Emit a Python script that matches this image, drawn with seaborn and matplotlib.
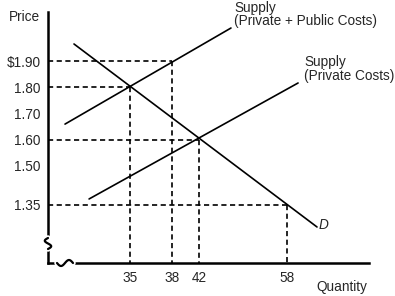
import matplotlib
matplotlib.use("Agg")
import matplotlib.pyplot as plt
import seaborn as sns
import pandas as pd
import numpy as np
from matplotlib.lines import Line2D

# ---- data ----
price_ticks = [1.90, 1.80, 1.70, 1.60, 1.50, 1.35]
price_labels = ["$1.90", "1.80", "1.70", "1.60", "1.50", "1.35"]

qty_labels = ["35", "38", "42", "58"]
qty_pos = [25.5, 38.6, 47.0, 74.5]          # position along the (unscaled) quantity axis
qty_price = [1.80, 1.90, 1.60, 1.35]        # price reached at each marked quantity
minor_qty_pos = [40.8, 56.4, 71.7, 86.9]

demand_x = [8.1, 83.8]
demand_p = [1.965, 1.266]
supply_pub_x = [5.3, 57.0]
supply_pub_p = [1.659, 2.026]
supply_priv_x = [12.8, 77.9]
supply_priv_p = [1.373, 1.816]

sns.set_style("white")
plt.rcParams["font.family"] = ["Liberation Sans", "DejaVu Sans"]
FS = 9.8

W, H = 395, 296
fig = plt.figure(figsize=(W / 100, H / 100), dpi=100)
ax = fig.add_axes([48 / W, 1 - 263 / H, (369 - 48) / W, (263 - 12) / H])
ax.set_xlim(0, 100)
ax.set_ylim(1.1284, 2.0872)

df = pd.concat([
    pd.DataFrame({"q": demand_x, "p": demand_p, "curve": "D"}),
    pd.DataFrame({"q": supply_pub_x, "p": supply_pub_p, "curve": "S_pub"}),
    pd.DataFrame({"q": supply_priv_x, "p": supply_priv_p, "curve": "S_priv"}),
])
sns.lineplot(data=df, x="q", y="p", hue="curve", units="curve", estimator=None,
             palette={"D": "black", "S_pub": "black", "S_priv": "black"},
             linewidth=1.2, legend=False, ax=ax, sort=False)

ybot = ax.get_ylim()[0]
for qx, qp in zip(qty_pos, qty_price):
    ax.plot([0, qx], [qp, qp], color="black", lw=1.2, dashes=(3.1, 2.1), zorder=1)
    ax.plot([qx, qx], [qp, ybot], color="black", lw=1.2, dashes=(3.1, 2.1), zorder=1)

for s in ["top", "right"]:
    ax.spines[s].set_visible(False)
for s in ["left", "bottom"]:
    ax.spines[s].set_linewidth(1.8)
    ax.spines[s].set_color("black")

ax.set_yticks(price_ticks)
ax.set_yticklabels(price_labels, fontsize=FS)
ax.set_xticks(qty_pos)
ax.set_xticklabels(qty_labels, fontsize=FS)
ax.set_xticks(minor_qty_pos, minor=True)
ax.tick_params(axis="y", length=0, pad=5.5)
ax.tick_params(axis="x", which="major", length=0, pad=6.0)
ax.tick_params(axis="x", which="minor", length=3, width=1.0, direction="out", color="black")
ax.set_xlabel("")
ax.set_ylabel("")


def px(x, y):
    return x / W, 1 - y / H


def text_px(x, y, s, **kw):
    fx, fy = px(x, y)
    fig.text(fx, fy, s, fontsize=FS, va="center", ha="left", **kw)


text_px(9, 17, "Price")
text_px(316, 287, "Quantity")
text_px(234, 8, "Supply")
text_px(234, 21, "(Private + Public Costs)")
text_px(304, 62, "Supply")
text_px(304, 76, "(Private Costs)")
text_px(319, 225, "D", style="italic")


def fig_line(xs, ys, **kw):
    pts = [px(a, b) for a, b in zip(xs, ys)]
    fig.add_artist(Line2D([p[0] for p in pts], [p[1] for p in pts],
                          transform=fig.transFigure, **kw))


# axis break marks
fig_line([48, 48], [238, 249], color="white", lw=4)
t = np.linspace(0, 1, 30)
fig_line(48 - 3.2 * np.sin(2 * np.pi * t), 238 + 11 * t, color="black", lw=1.6)
fig_line([57, 73], [263, 263], color="white", lw=4)
t = np.linspace(0, 1, 30)
fig_line(57 + 16 * t, 263 + 3 * np.sin(2 * np.pi * t), color="black", lw=1.6)

fig.savefig("out.png", dpi=100)
